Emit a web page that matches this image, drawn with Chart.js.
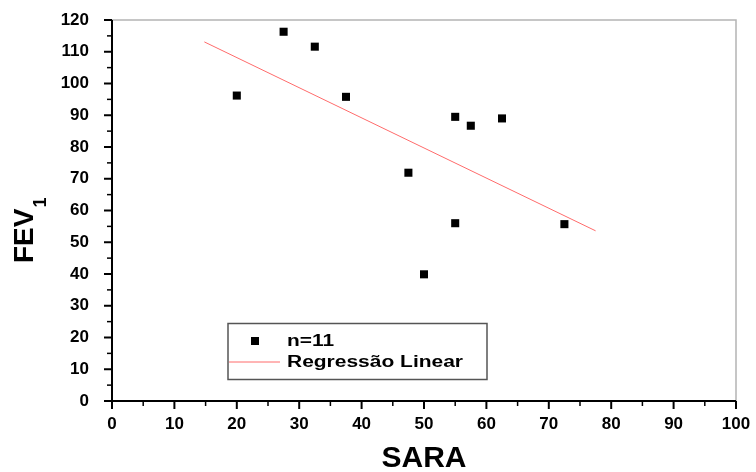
<!DOCTYPE html>
<html>
<head>
<meta charset="utf-8">
<script src="https://cdn.jsdelivr.net/npm/chart.js@4.4.1/dist/chart.umd.min.js"></script>
<style>
  html, body { margin: 0; padding: 0; background: #fff; }
  #wrap { width: 756px; height: 472px; }
</style>
</head>
<body>
<div id="wrap"><canvas id="fevChart" width="756" height="472"></canvas></div>
<script>
// values
const saraValues = [20, 27.5, 32.5, 37.5, 47.5, 50, 55, 55, 57.5, 62.5, 72.5];
const fevValues = [96.2, 116.3, 111.6, 95.8, 71.9, 39.9, 89.5, 56.0, 86.7, 89.0, 55.7];
const regressionX = [14.8, 77.5];
const regressionY = [113.1, 53.6];
const xTicks = [0, 10, 20, 30, 40, 50, 60, 70, 80, 90, 100];
const yTicks = [0, 10, 20, 30, 40, 50, 60, 70, 80, 90, 100, 110, 120];
const seriesLabel = 'n=11';
const lineLabel = 'Regressão Linear';

const tickFont = { family: '"Liberation Sans", Arial, sans-serif', size: 17, weight: 'bold' };

// draw text squeezed/stretched to a given width
function fitText(ctx, text, x, y, width) {
    const w = ctx.measureText(text).width;
    ctx.save();
    ctx.translate(x, y);
    ctx.scale(width / w, 1);
    ctx.fillText(text, 0, 0);
    ctx.restore();
}

// frame, minor ticks, axis titles and the legend box
const framePlugin = {
    id: 'frame',
    afterDraw(chart) {
        const ctx = chart.ctx;
        const a = chart.chartArea;
        const xs = chart.scales.x, ys = chart.scales.y;
        ctx.save();

        // grey top / right border
        ctx.strokeStyle = '#b4b4b4';
        ctx.lineWidth = 1.5;
        ctx.beginPath();
        ctx.moveTo(a.left, a.top);
        ctx.lineTo(a.right, a.top);
        ctx.lineTo(a.right, a.bottom);
        ctx.stroke();

        // black left / bottom axes
        ctx.strokeStyle = '#000';
        ctx.lineWidth = 2;
        ctx.beginPath();
        ctx.moveTo(a.left, a.top);
        ctx.lineTo(a.left, a.bottom);
        ctx.lineTo(a.right, a.bottom);
        ctx.stroke();

        // ticks, major every 10 and minor every 5
        for (let v = 0; v <= 100; v += 5) {
            const px = xs.getPixelForValue(v);
            const len = v % 10 === 0 ? 8 : 5;
            ctx.lineWidth = v % 10 === 0 ? 2 : 1.5;
            ctx.beginPath();
            ctx.moveTo(px, a.bottom);
            ctx.lineTo(px, a.bottom + len);
            ctx.stroke();
        }
        for (let v = 0; v <= 120; v += 5) {
            const py = ys.getPixelForValue(v);
            const len = v % 10 === 0 ? 8 : 5;
            ctx.lineWidth = v % 10 === 0 ? 2 : 1.5;
            ctx.beginPath();
            ctx.moveTo(a.left, py);
            ctx.lineTo(a.left - len, py);
            ctx.stroke();
        }

        // axis titles
        ctx.fillStyle = '#000';
        ctx.font = 'bold 30px "Liberation Sans", Arial, sans-serif';
        ctx.textAlign = 'center';
        ctx.textBaseline = 'alphabetic';
        ctx.fillText('SARA', (a.left + a.right) / 2, 467);

        ctx.save();
        ctx.translate(33, 263);
        ctx.rotate(-Math.PI / 2);
        ctx.textAlign = 'left';
        ctx.font = 'bold 28px "Liberation Sans", Arial, sans-serif';
        ctx.fillText('FEV', 0, 0);
        const w = ctx.measureText('FEV').width;
        ctx.font = 'bold 18px "Liberation Sans", Arial, sans-serif';
        ctx.fillText('1', w + 1, 13);
        ctx.restore();

        // legend
        ctx.strokeStyle = '#555';
        ctx.lineWidth = 1.5;
        ctx.strokeRect(228, 323.5, 259, 56);
        ctx.fillStyle = '#000';
        ctx.fillRect(251, 337, 8, 8);
        ctx.strokeStyle = chart.data.datasets[1].borderColor;
        ctx.lineWidth = 1;
        ctx.beginPath();
        ctx.moveTo(229, 362);
        ctx.lineTo(280, 362);
        ctx.stroke();
        ctx.fillStyle = '#000';
        ctx.font = 'bold 16px "Liberation Sans", Arial, sans-serif';
        ctx.textAlign = 'left';
        ctx.textBaseline = 'middle';
        fitText(ctx, chart.data.datasets[0].label, 287, 342, 47);
        fitText(ctx, chart.data.datasets[1].label, 287, 363, 176);

        ctx.restore();
    }
};

const ctx = document.getElementById('fevChart').getContext('2d');
new Chart(ctx, {
    type: 'scatter',
    data: {
        datasets: [{
            label: seriesLabel,
            data: saraValues.map((x, i) => ({ x: x, y: fevValues[i] })),
            pointStyle: 'rect',
            pointRadius: 5.7,
            pointHoverRadius: 5.7,
            pointBorderWidth: 0,
            backgroundColor: '#000',
            borderColor: '#000'
        }, {
            type: 'line',
            label: lineLabel,
            data: regressionX.map((x, i) => ({ x: x, y: regressionY[i] })),
            borderColor: '#ff6b6b',
            borderWidth: 1,
            pointRadius: 0,
            fill: false
        }]
    },
    options: {
        responsive: false,
        animation: false,
        layout: { padding: { top: 20, right: 20, left: 0, bottom: 0 } },
        plugins: {
            legend: { display: false },
            tooltip: { enabled: false }
        },
        scales: {
            x: {
                type: 'linear',
                min: 0,
                max: 100,
                afterFit: scale => {
                    scale.height = 71;
                    scale.paddingLeft = 0;
                    scale.paddingRight = 0;
                },
                afterBuildTicks: scale => { scale.ticks = xTicks.map(v => ({ value: v })); },
                grid: { display: false },
                border: { display: false },
                ticks: { color: '#000', font: tickFont, padding: 5, maxRotation: 0 }
            },
            y: {
                type: 'linear',
                min: 0,
                max: 120,
                afterFit: scale => {
                    scale.width = 112;
                    scale.paddingTop = 0;
                    scale.paddingBottom = 0;
                },
                afterBuildTicks: scale => { scale.ticks = yTicks.map(v => ({ value: v })); },
                grid: { display: false },
                border: { display: false },
                ticks: { color: '#000', font: tickFont, padding: 15 }
            }
        }
    },
    plugins: [framePlugin]
});
</script>
</body>
</html>
